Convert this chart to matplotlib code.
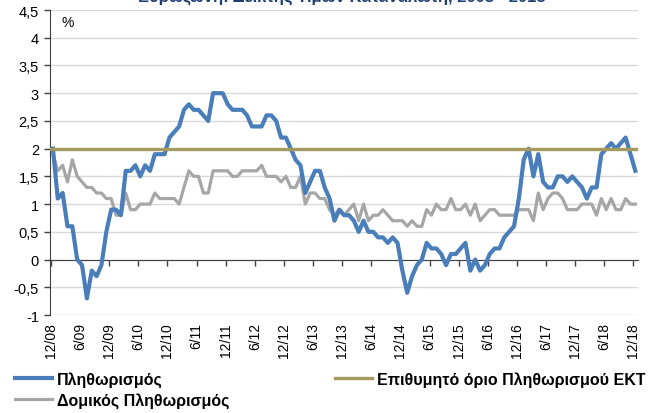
import matplotlib
matplotlib.use('Agg')
import matplotlib.pyplot as plt
import numpy as np

plt.rcParams['font.family'] = ['Liberation Sans', 'DejaVu Sans']

# monthly data, 12/2008 - 12/2018 (y/y %)
inflation = [
    2.0,
    1.1, 1.2, 0.6, 0.6, 0.0, -0.1, -0.7, -0.2, -0.3, -0.1, 0.5, 0.9,
    0.9, 0.8, 1.6, 1.6, 1.7, 1.5, 1.7, 1.6, 1.9, 1.9, 1.9, 2.2,
    2.3, 2.4, 2.7, 2.8, 2.7, 2.7, 2.6, 2.5, 3.0, 3.0, 3.0, 2.8,
    2.7, 2.7, 2.7, 2.6, 2.4, 2.4, 2.4, 2.6, 2.6, 2.5, 2.2, 2.2,
    2.0, 1.8, 1.7, 1.2, 1.4, 1.6, 1.6, 1.3, 1.1, 0.7, 0.9, 0.8,
    0.8, 0.7, 0.5, 0.7, 0.5, 0.5, 0.4, 0.4, 0.3, 0.4, 0.3, -0.2,
    -0.6, -0.3, -0.1, 0.0, 0.3, 0.2, 0.2, 0.1, -0.1, 0.1, 0.1, 0.2,
    0.3, -0.2, 0.0, -0.2, -0.1, 0.1, 0.2, 0.2, 0.4, 0.5, 0.6, 1.1,
    1.8, 2.0, 1.5, 1.9, 1.4, 1.3, 1.3, 1.5, 1.5, 1.4, 1.5, 1.4,
    1.3, 1.1, 1.3, 1.3, 1.9, 2.0, 2.1, 2.0, 2.1, 2.2, 1.9, 1.6,
]
core_inflation = [
    1.9,
    1.6, 1.7, 1.4, 1.8, 1.5, 1.4, 1.3, 1.3, 1.2, 1.2, 1.1, 1.1,
    0.8, 0.8, 1.2, 0.9, 0.9, 1.0, 1.0, 1.0, 1.2, 1.1, 1.1, 1.1,
    1.1, 1.0, 1.3, 1.6, 1.5, 1.5, 1.2, 1.2, 1.6, 1.6, 1.6, 1.6,
    1.5, 1.5, 1.6, 1.6, 1.6, 1.6, 1.7, 1.5, 1.5, 1.5, 1.4, 1.5,
    1.3, 1.3, 1.5, 1.0, 1.2, 1.2, 1.1, 1.1, 0.9, 0.8, 0.9, 0.8,
    0.9, 1.0, 0.7, 1.0, 0.7, 0.8, 0.8, 0.9, 0.8, 0.7, 0.7, 0.7,
    0.6, 0.7, 0.6, 0.6, 0.9, 0.8, 1.0, 0.9, 0.9, 1.1, 0.9, 0.9,
    1.0, 0.8, 1.0, 0.7, 0.8, 0.9, 0.9, 0.8, 0.8, 0.8, 0.8, 0.9,
    0.9, 0.9, 0.7, 1.2, 0.9, 1.1, 1.2, 1.2, 1.1, 0.9, 0.9, 0.9,
    1.0, 1.0, 1.0, 0.8, 1.1, 0.9, 1.1, 0.9, 0.9, 1.1, 1.0, 1.0,
]
ecb_target = 2.0
tick_labels = [
    '12/08', '6/09', '12/09', '6/10', '12/10', '6/11', '12/11', '6/12',
    '12/12', '6/13', '12/13', '6/14', '12/14', '6/15', '12/15', '6/16',
    '12/16', '6/17', '12/17', '6/18', '12/18',
]
y_ticks = [-1, -0.5, 0, 0.5, 1, 1.5, 2, 2.5, 3, 3.5, 4, 4.5]

months = np.arange(len(inflation))

fig = plt.figure(figsize=(6.58, 4.14), dpi=100)
ax = fig.add_axes([0.076, 0.2367, 0.894, 0.7367])

blue, = ax.plot(months + 0.4, inflation, color='#4A7EBB', lw=3.0,
                label='Πληθωρισμός', zorder=3)
gray, = ax.plot(months + 0.4, core_inflation, color='#A6A6A6', lw=2.3,
                label='Δομικός Πληθωρισμός', zorder=2)
gold = ax.axhline(ecb_target, color='#A49A5E', lw=2.4,
                  label='Επιθυμητό όριο Πληθωρισμού ΕΚΤ', zorder=4)

ax.set_ylim(-1, 4.5)
ax.set_xlim(-0.2, 121.0)
ax.set_yticks(y_ticks)
ax.set_yticklabels([f'{v:g}'.replace('.', ',') for v in y_ticks],
                   fontsize=10.5)
ax.yaxis.grid(True, color='#D9D9D9', lw=1.0)
ax.set_axisbelow(True)

ax.set_xticks(np.arange(0, len(inflation), 6))
ax.set_xticklabels(tick_labels, fontsize=11.5)
ax.tick_params(axis='x', length=4, width=1, color='#404040', pad=41,
               labelrotation=90)
ax.tick_params(axis='y', length=4, width=1, color='#404040', pad=4)

for side in ['top', 'right']:
    ax.spines[side].set_visible(False)
ax.spines['bottom'].set_position(('data', 0))
ax.spines['bottom'].set_color('#404040')
ax.spines['left'].set_color('#404040')

ax.text(0.02, 0.985, '%', transform=ax.transAxes, fontsize=10,
        va='top', ha='left')

fig.text(0.52, 0.993, 'Ευρωζώνη: Δείκτης Τιμών Καταναλωτή, 2008 - 2018',
         ha='center', va='baseline', fontsize=12, fontweight='bold',
         color='#1F3F73')

legend_font = {'weight': 'bold', 'size': 11.5}
fig.legend([blue, gray], [blue.get_label(), gray.get_label()],
           loc='upper left', bbox_to_anchor=(15 / 658, 1 - 372 / 414),
           frameon=False, prop=legend_font, borderpad=0,
           borderaxespad=0, handlelength=2.3, handletextpad=0.3,
           labelspacing=0.35)
fig.legend([gold], [gold.get_label()],
           loc='upper left', bbox_to_anchor=(335 / 658, 1 - 372 / 414),
           frameon=False, prop=legend_font, borderpad=0,
           borderaxespad=0, handlelength=2.3, handletextpad=0.3)

fig.savefig('out.png', dpi=100)
